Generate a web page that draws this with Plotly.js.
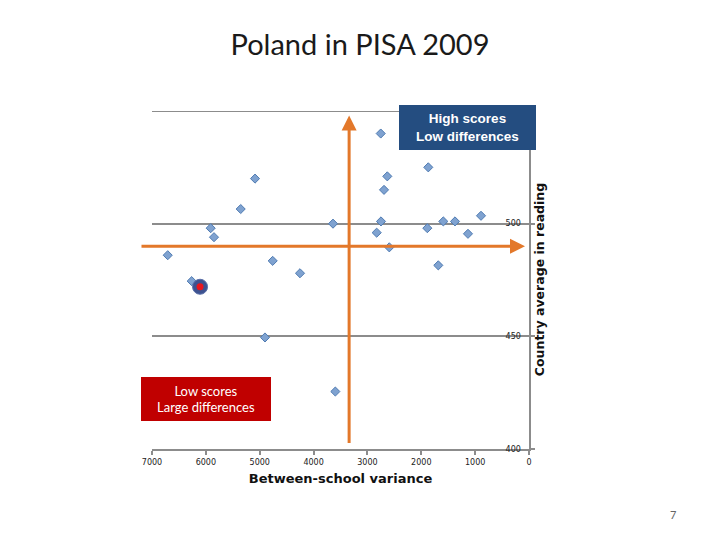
<!DOCTYPE html>
<html>
<head>
<meta charset="utf-8">
<script src="https://cdn.plot.ly/plotly-3.0.1.min.js"></script>
<style>html,body{margin:0;padding:0;background:#fff;}#chart{width:720px;height:540px;}</style>
</head>
<body>
<div id="chart"></div>
<script>
// Between-school variance (x) and country average in reading (y)
const variance = [2753, 1870, 2631, 5087, 2692, 5353, 891, 3639, 2748, 1591, 1374, 5910, 1888, 2828, 1133, 5849, 2594, 6708, 4759, 1684, 4252, 6263, 4902, 3596];
const reading  = [540, 525, 521, 520, 515, 506.5, 503.5, 500, 501, 501, 501, 498, 498, 496, 495.5, 494, 489.5, 486, 483.5, 481.5, 478, 474.5, 449.5, 425.5];
const polandVariance = [6108];
const polandReading = [472];
// reference averages (orange axes)
const avgReading = 490;
const avgVariance = 3340;
const xTicks = [0, 1000, 2000, 3000, 4000, 5000, 6000, 7000];
const yTicks = [400, 450, 500];
const yTop = 550;

const orange = '#E3782A';
const gridGray = '#8c8c8c';

const traces = [
  {
    x: variance, y: reading, type: 'scatter', mode: 'markers',
    marker: {symbol: 'diamond', size: 7, color: '#7FA2D0', line: {color: '#4F7BB2', width: 1}},
    hoverinfo: 'x+y', showlegend: false
  },
  {
    x: polandVariance, y: polandReading, type: 'scatter', mode: 'markers',
    marker: {symbol: 'circle', size: 15, color: '#3D5290', line: {color: '#5A6FA8', width: 1}},
    showlegend: false
  },
  {
    x: polandVariance, y: polandReading, type: 'scatter', mode: 'markers',
    marker: {symbol: 'circle', size: 7, color: '#E8161E'},
    showlegend: false
  }
];

const layout = {
  width: 720, height: 540,
  paper_bgcolor: '#ffffff', plot_bgcolor: '#ffffff',
  margin: {l: 152, r: 191, t: 111, b: 91},
  title: {
    text: 'Poland in PISA 2009',
    font: {family: 'Lato, sans-serif', size: 29, color: '#1a1a1a'},
    x: 0.5, xanchor: 'center', y: 1 - 45/540, yanchor: 'middle'
  },
  xaxis: {
    range: [7000, 0],
    tickvals: xTicks,
    ticks: 'outside', ticklen: 4, tickcolor: gridGray, tickwidth: 2,
    showline: true, linecolor: gridGray, linewidth: 2,
    showgrid: false, zeroline: false,
    tickfont: {family: 'DejaVu Sans, sans-serif', size: 8, color: '#222'},
    title: {text: 'Between-school variance', standoff: 8,
      font: {family: 'DejaVu Sans, sans-serif', size: 13, color: '#111', weight: 'bold'}}
  },
  yaxis: {
    range: [400, yTop], side: 'right',
    tickvals: yTicks,
    ticks: 'outside', ticklen: 4, tickcolor: gridGray, tickwidth: 2,
    ticklabelposition: 'outside', ticklabelstandoff: -31,
    showline: true, linecolor: gridGray, linewidth: 2,
    showgrid: true, gridcolor: gridGray, gridwidth: 2, zeroline: false,
    tickfont: {family: 'DejaVu Sans, sans-serif', size: 8, color: '#222'},
    title: {text: '', font: {size: 1}}
  },
  shapes: [
    {type: 'line', xref: 'paper', yref: 'y', x0: 0, x1: 1, y0: yTop, y1: yTop,
     line: {color: gridGray, width: 2}, layer: 'below'}
  ],
  annotations: [
    {x: 74, y: avgReading, ax: 7223, ay: avgReading, xref: 'x', yref: 'y', axref: 'x', ayref: 'y',
     text: '', showarrow: true, arrowhead: 2, arrowsize: 1, arrowwidth: 3, arrowcolor: orange, standoff: 0},
    {x: avgVariance, y: 548, ax: avgVariance, ay: 402, xref: 'x', yref: 'y', axref: 'x', ayref: 'y',
     text: '', showarrow: true, arrowhead: 2, arrowsize: 1, arrowwidth: 3, arrowcolor: orange, standoff: 0},
    {xref: 'paper', yref: 'paper', x: 1.027, y: 0.5, xanchor: 'center', yanchor: 'middle', textangle: -90,
     text: 'Country average in reading', showarrow: false,
     font: {family: 'DejaVu Sans, sans-serif', size: 12.5, color: '#111', weight: 'bold'}},
    {xref: 'paper', yref: 'paper', x: 0.837, y: 0.951, xanchor: 'center', yanchor: 'middle',
     text: 'High scores<br>Low differences', showarrow: false, width: 137, height: 45,
     bgcolor: '#244D80', borderpad: 0, borderwidth: 0,
     font: {family: 'Liberation Sans, Arial, sans-serif', size: 13.5, color: '#ffffff', weight: 'bold'}},
    {xref: 'paper', yref: 'paper', x: 0.143, y: 0.148, xanchor: 'center', yanchor: 'middle',
     text: 'Low scores<br>Large differences', showarrow: false, width: 130, height: 44,
     bgcolor: '#C00000', borderpad: 0, borderwidth: 0,
     font: {family: 'Lato, sans-serif', size: 13, color: '#ffffff'}},
    {xref: 'paper', yref: 'paper', x: 1.382, y: -0.195, xanchor: 'center', yanchor: 'middle',
     text: '7', showarrow: false,
     font: {family: 'Lato, sans-serif', size: 11, color: '#666'}}
  ]
};

Plotly.newPlot('chart', traces, layout, {displayModeBar: false, staticPlot: true});
</script>
</body>
</html>
